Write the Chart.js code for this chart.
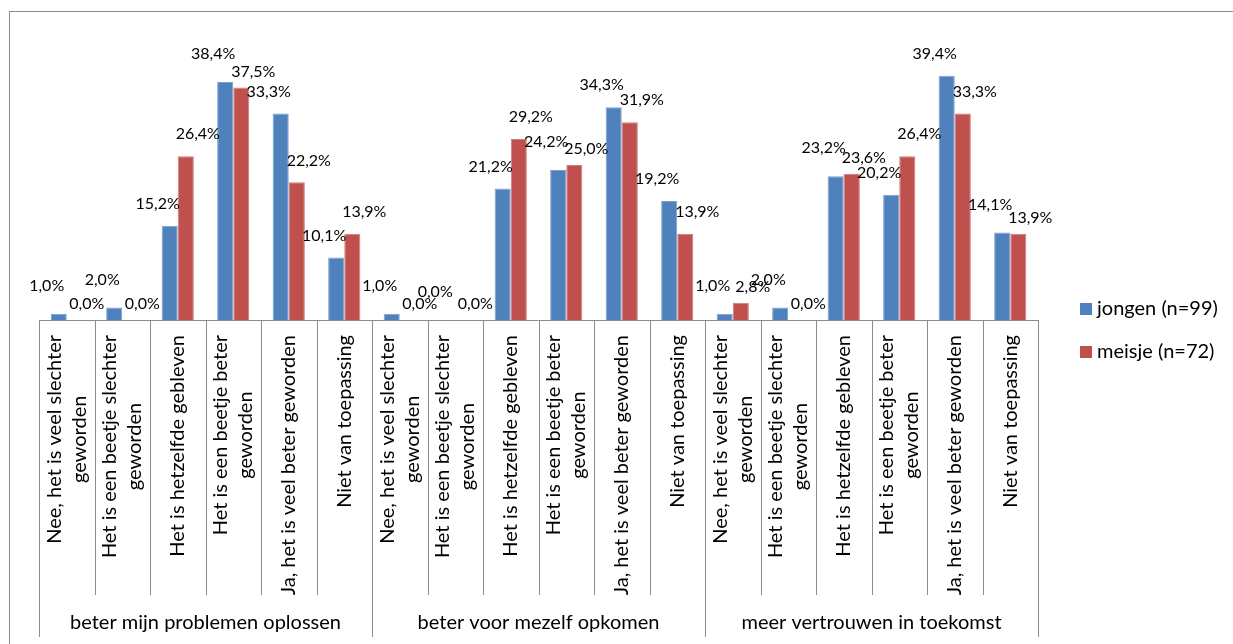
<!DOCTYPE html>
<html lang="nl">

<head>
    <meta charset="UTF-8">
    <title>Vergelijking jongens en meisjes</title>
    <script src="https://cdn.jsdelivr.net/npm/chart.js"></script>
    <style>
        body {
            margin: 0;
            background: #ffffff;
            overflow: hidden;
        }

        canvas {
            display: block;
        }
    </style>
</head>

<body>
    <canvas id="chart" width="1233" height="644"></canvas>

    <script>
        // Groups along the bottom and the answer options within each group
        const groups = ['beter mijn problemen oplossen', 'beter voor mezelf opkomen', 'meer vertrouwen in toekomst'];
        const answers = [
            ['Nee, het is veel slechter', 'geworden'],
            ['Het is een beetje slechter', 'geworden'],
            ['Het is hetzelfde gebleven'],
            ['Het is een beetje beter', 'geworden'],
            ['Ja, het is veel beter geworden'],
            ['Niet van toepassing']
        ];

        const seriesNames = ['jongen (n=99)', 'meisje (n=72)'];
        // percentages, group after group
        const jongen = [1.0, 2.0, 15.2, 38.4, 33.3, 10.1,
                        1.0, 0.0, 21.2, 24.2, 34.3, 19.2,
                        1.0, 2.0, 23.2, 20.2, 39.4, 14.1];
        const meisje = [0.0, 0.0, 26.4, 37.5, 22.2, 13.9,
                        0.0, 0.0, 29.2, 25.0, 31.9, 13.9,
                        2.8, 0.0, 23.6, 26.4, 33.3, 13.9];

        const categories = groups.flatMap(() => answers);
        const colors = ['#4F81BD', '#C0504D'];
        const font = 'Lato, "Open Sans", sans-serif';
        const gridColor = '#8c8c8c';

        function fmt(v) {
            return v.toFixed(1).replace('.', ',') + '%';
        }

        // draws the frame, category axis, value labels and the legend
        const excelLook = {
            id: 'excelLook',
            afterDatasetsDraw(chart) {
                const ctx = chart.ctx;
                const area = chart.chartArea;
                const xs = chart.scales.x;
                const n = categories.length;
                const perGroup = answers.length;

                ctx.save();

                // outer frame (runs off the right and bottom edge)
                ctx.strokeStyle = gridColor;
                ctx.lineWidth = 1;
                ctx.strokeRect(9.5, 11.5, 1400, 800);

                // axis line
                ctx.beginPath();
                ctx.moveTo(area.left, area.bottom + 0.5);
                ctx.lineTo(area.right, area.bottom + 0.5);
                ctx.stroke();

                // category separators
                const edge = i => {
                    if (i === 0) return area.left;
                    if (i === n) return area.right;
                    return (xs.getPixelForValue(i - 1) + xs.getPixelForValue(i)) / 2;
                };
                for (let i = 0; i <= n; i++) {
                    const x = Math.round(edge(i)) + 0.5;
                    const isGroup = i % perGroup === 0;
                    ctx.beginPath();
                    ctx.moveTo(x, area.bottom);
                    ctx.lineTo(x, area.bottom + (isGroup ? 317 : 275));
                    ctx.stroke();
                }

                // rotated category labels
                ctx.fillStyle = '#000';
                ctx.font = '20px ' + font;
                ctx.textAlign = 'center';
                ctx.textBaseline = 'middle';
                const lineH = 25;
                categories.forEach((lines, i) => {
                    const x = xs.getPixelForValue(i);
                    const widths = lines.map(l => ctx.measureText(l).width);
                    const maxW = Math.max(...widths);
                    ctx.save();
                    ctx.translate(x, area.bottom + 15 + maxW / 2);
                    ctx.rotate(-Math.PI / 2);
                    lines.forEach((l, k) => {
                        const off = (k - (lines.length - 1) / 2) * lineH;
                        ctx.fillText(l, 0, off);
                    });
                    ctx.restore();
                });

                // group labels
                groups.forEach((g, j) => {
                    const x = (edge(j * perGroup) + edge((j + 1) * perGroup)) / 2;
                    ctx.fillText(g, x, area.bottom + 303);
                });

                // value labels above the bars
                ctx.font = '16px ' + font;
                const m0 = chart.getDatasetMeta(0).data;
                const m1 = chart.getDatasetMeta(1).data;
                for (let i = 0; i < n; i++) {
                    let y0 = m0[i].y - 22;
                    let y1 = m1[i].y - 22;
                    if (Math.abs(y0 - y1) < 14) {
                        y0 -= 6;
                        y1 += 6;
                    }
                    ctx.fillText(fmt(jongen[i]), m0[i].x - 12, y0);
                    ctx.fillText(fmt(meisje[i]), m1[i].x + 12, y1);
                }

                // legend
                ctx.font = '20px ' + font;
                ctx.textAlign = 'left';
                seriesNames.forEach((name, k) => {
                    const y = 309 + k * 43;
                    ctx.fillStyle = colors[k];
                    ctx.fillRect(1080, y - 6, 12, 12);
                    ctx.fillStyle = '#000';
                    ctx.fillText(name, 1097, y);
                });

                ctx.restore();
            }
        };

        new Chart(document.getElementById('chart'), {
            type: 'bar',
            data: {
                labels: categories.map(l => l.join(' ')),
                datasets: [{
                    label: seriesNames[0],
                    data: jongen,
                    backgroundColor: colors[0],
                    borderColor: '#7d9fcf',
                    borderWidth: 1
                }, {
                    label: seriesNames[1],
                    data: meisje,
                    backgroundColor: colors[1],
                    borderColor: '#d17d7a',
                    borderWidth: 1
                }]
            },
            options: {
                responsive: false,
                animation: false,
                layout: {
                    padding: { top: 41, left: 39, right: 195, bottom: 324 }
                },
                datasets: {
                    bar: {
                        barPercentage: 1,
                        categoryPercentage: 0.58
                    }
                },
                scales: {
                    x: { display: false },
                    y: { display: false, min: 0, max: 45 }
                },
                plugins: {
                    legend: { display: false },
                    tooltip: { enabled: false }
                }
            },
            plugins: [excelLook]
        });
    </script>

</body>

</html>
